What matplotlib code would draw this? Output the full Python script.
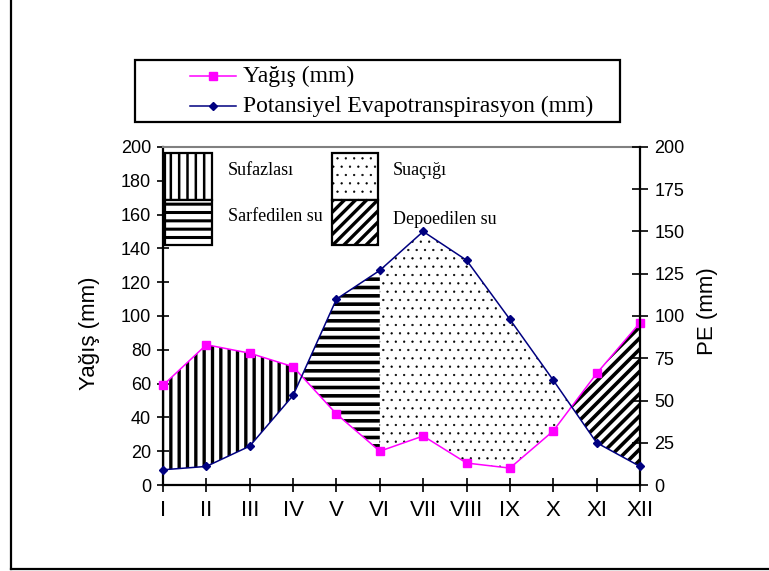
import numpy as np
import matplotlib
matplotlib.use("Agg")
import matplotlib.pyplot as plt
from matplotlib.patches import Rectangle
from matplotlib.lines import Line2D

# ---------------- data ----------------
months = ['I', 'II', 'III', 'IV', 'V', 'VI', 'VII', 'VIII', 'IX', 'X', 'XI', 'XII']
yagis = [59, 83, 78, 70, 42, 20, 29, 13, 10, 32, 66, 96]
pe = [9, 11, 23, 53, 110, 127, 150, 133, 98, 62, 25, 11]
left_ticks = [0, 20, 40, 60, 80, 100, 120, 140, 160, 180, 200]
right_ticks = [0, 25, 50, 75, 100, 125, 150, 175, 200]
legend_labels = ['Yağış (mm)', 'Potansiyel Evapotranspirasyon (mm)']
area_labels = ['Sufazlası', 'Sarfedilen su', 'Suaçığı', 'Depoedilen su']

W, H = 769, 571
fig = plt.figure(figsize=(W / 100, H / 100), dpi=100)
fig.patch.set_facecolor('white')

def fx(px):
    return px / W

def fy(py):
    return 1 - py / H

ax = fig.add_axes([fx(163), fy(485), fx(640) - fx(163), fy(147) - fy(485)])
ax2 = ax.twinx()

x = np.arange(len(months))
MAG = '#FF00FF'
NAVY = '#000080'
SANS = 'Liberation Sans'
SERIF = 'Liberation Serif'

# ---------------- hatched areas ----------------
xs = np.linspace(0, 11, 1101)
yi = np.interp(xs, x, yagis)
pi = np.interp(xs, x, pe)

def hfill(mask, hatch, lw):
    coll = ax.fill_between(xs, yi, pi, where=mask, interpolate=True,
                           facecolor='none', edgecolor='black', linewidth=0,
                           hatch=hatch, zorder=1)
    try:
        coll.set_hatch_linewidth(lw)
    except Exception:
        pass
    return coll

hfill((yi >= pi) & (xs <= 5), '||', 2.4)
hfill((pi >= yi) & (xs <= 5), '--', 2.6)
hfill((pi >= yi) & (xs >= 5), '..', 0.4)
hfill((yi >= pi) & (xs >= 5), '///', 2.6)

# ---------------- lines ----------------
ax.plot(x, yagis, color=MAG, lw=1.1, marker='s', ms=5.5, mec=MAG, mfc=MAG,
        zorder=5, clip_on=False)
ax2.plot(x, pe, color=NAVY, lw=1.1, marker='D', ms=4.5, mec=NAVY, mfc=NAVY,
         zorder=5, clip_on=False)

# ---------------- axes ----------------
ax.set_xlim(0, 11)
ax.set_ylim(0, 200)
ax2.set_ylim(0, 200)
ax.set_xticks(x)
ax.set_xticklabels(months, fontfamily=SANS, fontsize=16)
ax.set_yticks(left_ticks)
ax.set_yticklabels([str(t) for t in left_ticks], fontfamily=SANS, fontsize=13)
ax2.set_yticks(right_ticks)
ax2.set_yticklabels([str(t) for t in right_ticks], fontfamily=SANS, fontsize=13)

ax.tick_params(axis='x', direction='inout', length=10, width=1.2, pad=6, colors='black')
ax.tick_params(axis='y', direction='inout', length=9, width=1.2, pad=4, colors='black')
ax2.tick_params(axis='y', direction='inout', length=11, width=1.2, pad=5, colors='black')

for sp in ['left', 'bottom']:
    ax.spines[sp].set_linewidth(1.6)
    ax.spines[sp].set_color('black')
ax.spines['right'].set_visible(False)
ax.spines['top'].set_color('#808080')
ax.spines['top'].set_linewidth(1.5)
ax2.spines['right'].set_linewidth(1.6)
ax2.spines['right'].set_color('black')
ax2.spines['left'].set_visible(False)
ax2.spines['bottom'].set_visible(False)
ax2.spines['top'].set_visible(False)

ax.set_ylabel('Yağış (mm)', fontfamily=SANS, fontsize=16)
ax.yaxis.set_label_coords((100 - 163) / 477, (485 - 333) / 338)
ax2.set_ylabel('PE (mm)', fontfamily=SANS, fontsize=16, rotation=90)
ax2.yaxis.set_label_coords((697 - 163) / 477, (485 - 311) / 338)

# ---------------- inner area legend ----------------
def ax_x(px):
    return (px - 163) / 477

def ax_y(py):
    return (485 - py) / 338

boxes = [
    (165, 153, 212, 200, '||', 1.8, area_labels[0], 228, 171),
    (165, 200, 212, 245, '--', 2.2, area_labels[1], 228, 217),
    (332, 153, 378, 200, '..', 0.4, area_labels[2], 393, 171),
    (332, 200, 378, 245, '///', 2.4, area_labels[3], 393, 220),
]
for x0, y0, x1, y1, hatch, hlw, lab, tx, ty in boxes:
    r = Rectangle((ax_x(x0), ax_y(y1)), ax_x(x1) - ax_x(x0), ax_y(y0) - ax_y(y1),
                  transform=ax2.transAxes, facecolor='white', edgecolor='black',
                  linewidth=1.6, hatch=hatch, zorder=6, clip_on=False)
    try:
        r.set_hatch_linewidth(hlw)
    except Exception:
        pass
    ax2.add_patch(r)
    ax2.text(ax_x(tx), ax_y(ty), lab, transform=ax2.transAxes, fontfamily=SERIF,
             fontsize=13, ha='left', va='center', zorder=7)

# ---------------- top legend (figure level) ----------------
fig.add_artist(Rectangle((fx(135), fy(122)), fx(620) - fx(135), fy(60) - fy(122),
                         transform=fig.transFigure, facecolor='white',
                         edgecolor='black', linewidth=1.6))
rows = [(76, MAG, 's', 5.5, legend_labels[0]), (106, NAVY, 'D', 4.5, legend_labels[1])]
for ry, col, mk, ms, lab in rows:
    fig.add_artist(Line2D([fx(190), fx(236)], [fy(ry), fy(ry)], transform=fig.transFigure,
                          color=col, lw=1.1))
    fig.add_artist(Line2D([fx(213)], [fy(ry)], transform=fig.transFigure,
                          color=col, marker=mk, ms=ms, mfc=col, mec=col, lw=0))
    fig.text(fx(243), fy(ry), lab, fontfamily=SERIF, fontsize=17, ha='left', va='center')

# ---------------- outer border ----------------
fig.add_artist(Line2D([fx(11), fx(11)], [fy(569), 1.0], transform=fig.transFigure,
                      color='black', lw=1.6))
fig.add_artist(Line2D([fx(11), 1.0], [fy(569), fy(569)], transform=fig.transFigure,
                      color='black', lw=1.6))

fig.savefig('out.png', dpi=100, facecolor='white')
